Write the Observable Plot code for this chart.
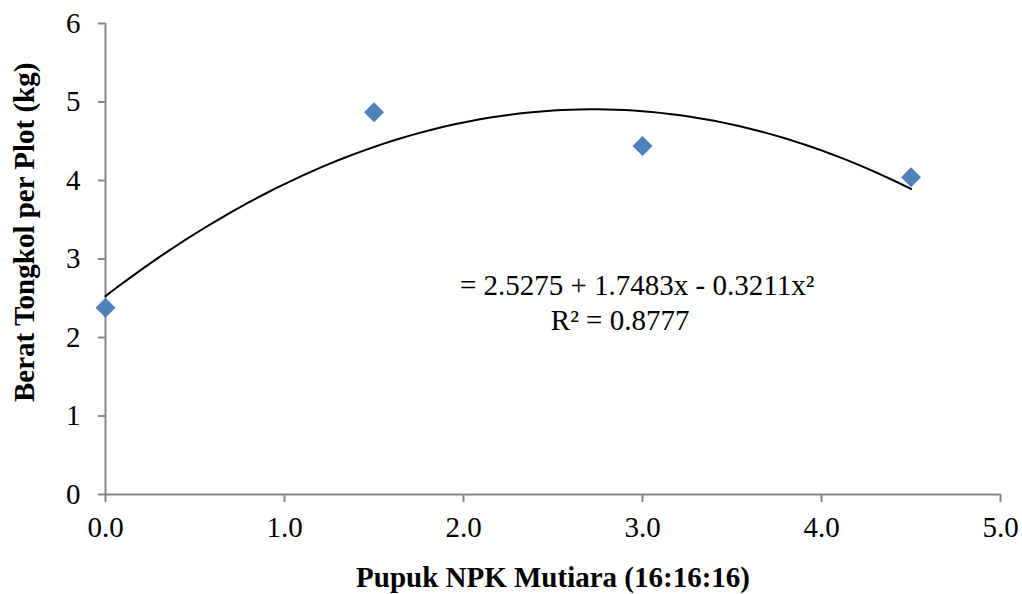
<!DOCTYPE html>
<html>
<head>
<meta charset="utf-8">
<script src="https://cdn.jsdelivr.net/npm/d3@7"></script>
<script src="https://cdn.jsdelivr.net/npm/@observablehq/plot@0.6"></script>
<style>
  html, body { margin: 0; padding: 0; background: #fff; }
  #chart svg { display: block; }
  #chart [aria-label="x-axis label"] text { font-weight: bold; }
</style>
</head>
<body>
<div id="chart"></div>
<script>
// Dose of NPK Mutiara fertilizer and observed cob weight per plot
const dose = [0, 1.5, 3.0, 4.5];
const weight = [2.38, 4.87, 4.44, 4.04];

// Quadratic trend: y = c0 + c1*x + c2*x^2
const coef = [2.5275, 1.7483, -0.3211];
const rSquared = 0.8777;

const xTitle = "Pupuk NPK Mutiara (16:16:16)";
const yTitle = "Berat Tongkol per Plot (kg)";

const points = dose.map((x, i) => ({x, y: weight[i]}));
const trendX = d3.range(0, 4.5 + 1e-9, 0.05);
const trend = trendX.map(x => ({x, y: coef[0] + coef[1] * x + coef[2] * x * x}));

const eqLabel = `= ${coef[0]} + ${coef[1]}x - ${Math.abs(coef[2])}x²`;
const r2Label = `R² = ${rSquared}`;

const axisGray = "#868686";
const fs = 29;

const chart = Plot.plot({
  width: 1022,
  height: 594,
  marginLeft: 105,
  marginRight: 22,
  marginTop: 23,
  marginBottom: 100,
  style: {fontFamily: "'Liberation Serif', 'Times New Roman', serif", fontSize: fs + "px", color: "#000", background: "#fff"},
  x: {domain: [0, 5]},
  y: {domain: [0, 6]},
  marks: [
    Plot.ruleX([0], {stroke: axisGray, strokeWidth: 2}),
    Plot.ruleY([0], {stroke: axisGray, strokeWidth: 2}),
    Plot.axisX({
      ticks: d3.range(0, 5.01, 1), tickFormat: d => d.toFixed(1),
      tickSize: 8, tickPadding: 14, stroke: axisGray, strokeWidth: 2, fill: "#000", fontSize: fs,
      label: xTitle, labelAnchor: "center", labelArrow: false, labelOffset: 92
    }),
    Plot.axisY({
      ticks: d3.range(0, 6.01, 1), tickFormat: d => d,
      tickSize: 7, tickPadding: 18, stroke: axisGray, strokeWidth: 2, fill: "#000", fontSize: fs,
      label: null
    }),
    // Y-axis title, rotated and set a little above the middle of the axis
    Plot.text([yTitle], {x: -0.45, y: 3.34, text: d => d, rotate: -90, fontWeight: "bold", fill: "#000", fontSize: fs, clip: false}),
    Plot.line(trend, {x: "x", y: "y", stroke: "#000", strokeWidth: 2}),
    Plot.dot(points, {x: "x", y: "y", symbol: "diamond2", r: 9, fill: "#4F81BD", stroke: "none"}),
    Plot.text([eqLabel], {x: 2.97, y: 2.66, text: d => d, fill: "#000", fontSize: fs}),
    Plot.text([r2Label], {x: 2.875, y: 2.21, text: d => d, fill: "#000", fontSize: fs})
  ]
});

document.getElementById("chart").append(chart);
</script>
</body>
</html>
